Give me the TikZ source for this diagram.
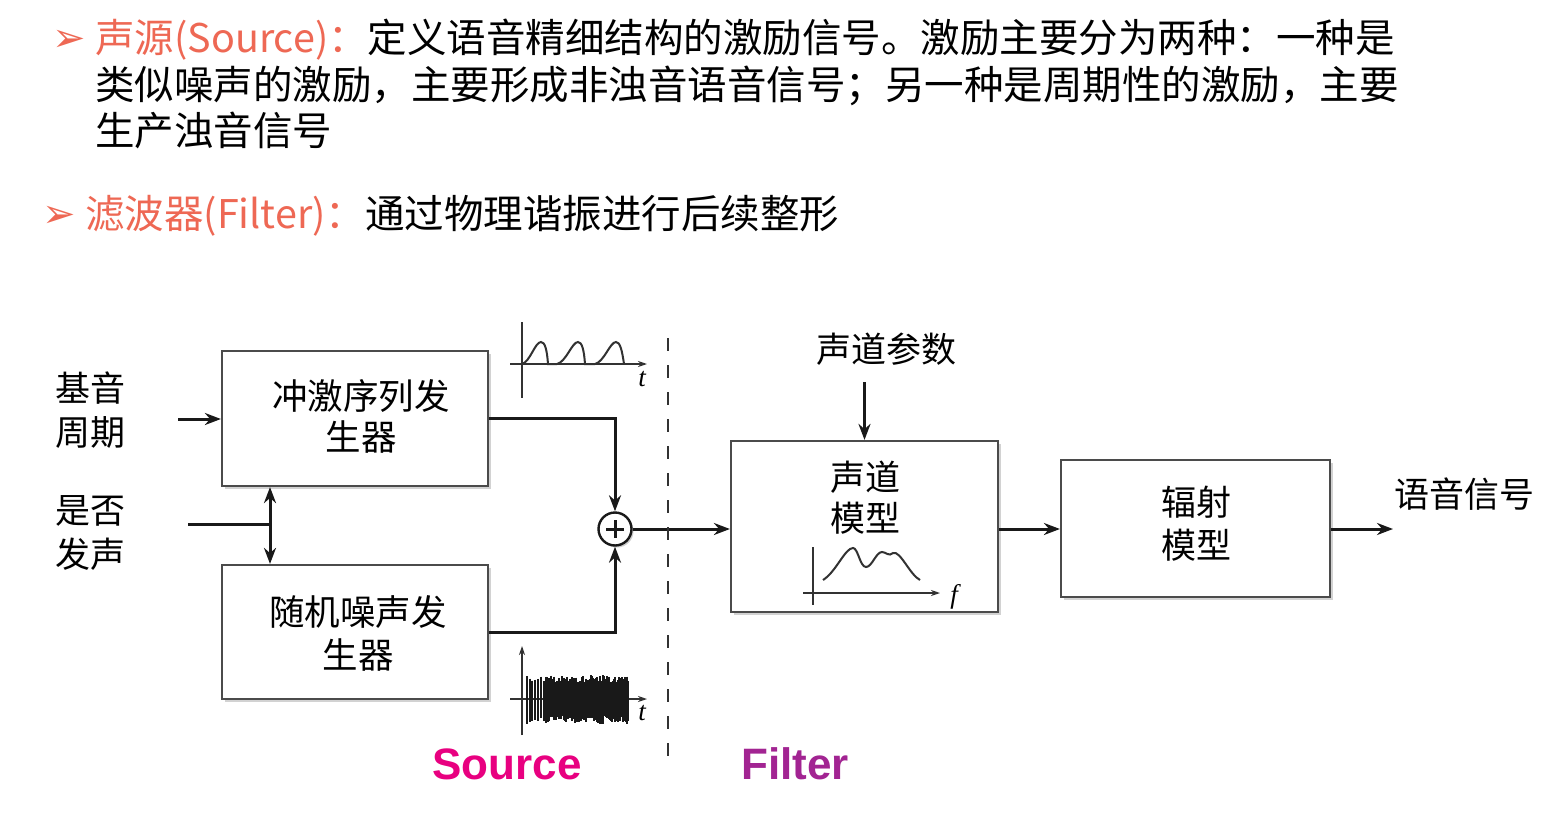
\documentclass[tikz,border=0pt]{standalone}
\usepackage{fontspec}
\newfontfamily\cjk{Noto Sans CJK SC}
\newfontfamily\arialf{Liberation Sans}
\newfontfamily\timesf{Liberation Serif}
\newfontfamily\dejavu{DejaVu Sans}
\usetikzlibrary{arrows.meta,shadows,calc}
\definecolor{titlered}{RGB}{238,104,84}
\definecolor{srcpink}{RGB}{232,0,128}
\definecolor{filpurple}{RGB}{162,36,146}
\definecolor{boxgray}{RGB}{75,75,75}
\definecolor{linek}{RGB}{25,25,25}
\definecolor{axisgray}{RGB}{50,50,50}
\begin{document}
\begin{tikzpicture}[x=1pt,y=-1pt,
  blk/.style={draw=boxgray, line width=2.2pt, fill=white,
    drop shadow={shadow xshift=3pt,shadow yshift=-3pt,opacity=0.35},
    font=\cjk\fontsize{35.5}{41}\selectfont, align=center, inner sep=0pt},
  conn/.style={line width=3pt, draw=linek},
  arr/.style={conn, -{Stealth[length=16pt,width=12pt]}},
  darr/.style={conn, {Stealth[length=16pt,width=12pt]}-{Stealth[length=16pt,width=12pt]}},
  lbl/.style={font=\cjk\fontsize{35}{44}\selectfont, align=center, inner sep=0pt},
  toptext/.style={font=\cjk\fontsize{39.5}{47}\selectfont, anchor=base west, inner sep=0pt, text=black},
  bullet/.style={font=\dejavu\fontsize{40}{40}\selectfont, text=titlered, anchor=base west, inner sep=0pt},
  axis/.style={line width=1.6pt, draw=axisgray},
  axarr/.style={axis, -{Stealth[length=9pt,width=6pt]}},
  wave/.style={line width=2pt, draw=axisgray},
  vlab/.style={font=\timesf\itshape\fontsize{27}{27}\selectfont, inner sep=0pt},
  sflabel/.style={font=\arialf\bfseries\fontsize{44}{44}\selectfont, inner sep=0pt}
]
\useasboundingbox[fill=white] (0,0) rectangle (1554,824);

% ---- top text ----
\node[bullet] (bu1) at (52,52) {➢};
\node[toptext] (t1) at (95,53) {\textcolor{titlered}{声源(Source)：}定义语音精细结构的激励信号。激励主要分为两种：一种是};
\node[toptext] (t2) at (95,100) {类似噪声的激励，主要形成非浊音语音信号；另一种是周期性的激励，主要};
\node[toptext] (t3) at (95,145) {生产浊音信号};
\node[bullet] (bu2) at (42,227) {➢};
\node[toptext] (t4) at (85,228) {\textcolor{titlered}{滤波器(Filter)：}通过物理谐振进行后续整形};

% ---- blocks ----
\node[blk, minimum width=266pt, minimum height=135pt] (b1) at (355,418.5) {};
\node[lbl, font=\cjk\fontsize{35.5}{41}\selectfont] (b1t) at (361,416.5) {冲激序列发\\生器};
\node[blk, minimum width=266pt, minimum height=134pt] (b2) at (355,632) {};
\node[lbl, font=\cjk\fontsize{35.5}{43}\selectfont] (b2t) at (358,633) {随机噪声发\\生器};
\node[blk, minimum width=267pt, minimum height=171pt] (b3) at (864.5,526.5) {};
\node[lbl, font=\cjk\fontsize{35}{41}\selectfont] (b3t) at (865,497.5) {声道\\模型};
\node[blk, minimum width=269pt, minimum height=137pt] (b4) at (1195.5,528.5) {};
\node[lbl, font=\cjk\fontsize{35}{43}\selectfont] (b4t) at (1196,523.5) {辐射\\模型};

\node[circle, draw=linek, line width=2.4pt, fill=white, minimum size=33pt, inner sep=0pt,
      drop shadow={shadow xshift=2pt,shadow yshift=-2pt,opacity=0.4}] (sum) at (615,529) {};
\draw[line width=3pt, draw=linek] ($(sum.center)+(-9,0)$) -- ($(sum.center)+(9,0)$);
\draw[line width=3pt, draw=linek] ($(sum.center)+(0,-9)$) -- ($(sum.center)+(0,9)$);

% ---- labels ----
\node[lbl] (pitch) at (90,410) {基音\\周期};
\node[lbl] (voiced) at (90,533) {是否\\发声};
\node[lbl] (vtp) at (886,349) {声道参数};
\node[lbl, anchor=west] (speech) at (1394,494) {语音信号};
\node[sflabel, text=srcpink] (src) at (507,764) {Source};
\node[sflabel, text=filpurple] (fil) at (795,764) {Filter};

% ---- connectors ----
\coordinate (pin) at (178,419);
\draw[arr] (pin) -- (pin -| b1.west);
\coordinate (vin) at (188,524);
\coordinate (vx) at (270,524);
\draw[conn] (vin) -- (vx);
\draw[darr] (b1.south -| vx) -- (b2.north -| vx);
\draw[arr] (b1.east) -| (sum.north);
\draw[arr] (b2.east) -| (sum.south);
\draw[arr] (sum.east) -- (sum.east -| b3.west);
\coordinate (vtpin) at (864.5,382);
\draw[arr] (vtpin) -- (b3.north);
\draw[arr] (b3.east |- sum.east) -- (b4.west |- sum.east);
\coordinate (out) at (1393,529);
\draw[arr] (b4.east |- out) -- (out);

% ---- dashed divider ----
\coordinate (dtop) at (668,338);
\coordinate (dbot) at (668,765);
\draw[line width=2pt, draw=axisgray, dash pattern=on 13pt off 14pt] (dtop) -- (dbot);

% ---- pulse train plot ----
\draw[axis] (522,322) -- (522,398);
\draw[axarr] (510,364) -- (647,364);
\node[vlab] (tl1) at (642,379) {t};
\draw[wave] (522,364)
  .. controls (530,362) and (535,342) .. (541,342)
  .. controls (545,342) and (547,350) .. (548,364) -- (557,364)
  .. controls (566,362) and (572,342) .. (578,342)
  .. controls (582,342) and (584,350) .. (585,364) -- (595,364)
  .. controls (604,362) and (610,342) .. (616,342)
  .. controls (620,342) and (622,350) .. (624,364);

% ---- noise plot ----
\draw[axarr] (522,735) -- (522,646);
\draw[axarr] (510,699) -- (647,699);
\node[vlab] (tl2) at (642,713) {t};
\pgfmathsetseed{11}
\foreach \xx in {527,530,532,535,538,541} {
  \pgfmathsetmacro\aa{18+7*rnd}
  \pgfmathsetmacro\bb{18+7*rnd}
  \draw[line width=1.6pt, draw=linek] (\xx,{699-\aa}) -- (\xx,{699+\bb});
}
\foreach \xx in {544,545,...,628} {
  \pgfmathsetmacro\aa{15+9*rnd}
  \pgfmathsetmacro\bb{16+9*rnd}
  \draw[line width=1.6pt, draw=linek] (\xx,{699-\aa}) -- (\xx,{699+\bb});
}

% ---- spectrum plot ----
\draw[axis] (813,547) -- (813,605);
\draw[axarr] (803,593) -- (940,593);
\node[vlab] (fl) at (954,597) {f};
\draw[wave] (823,580)
  .. controls (836,572) and (845,548) .. (853,548)
  .. controls (858,548) and (860,567) .. (866,567)
  .. controls (872,567) and (876,552) .. (882,552)
  .. controls (886,552) and (889,557) .. (893,553)
  .. controls (900,550) and (910,575) .. (920,580);
\end{tikzpicture}
\end{document}
